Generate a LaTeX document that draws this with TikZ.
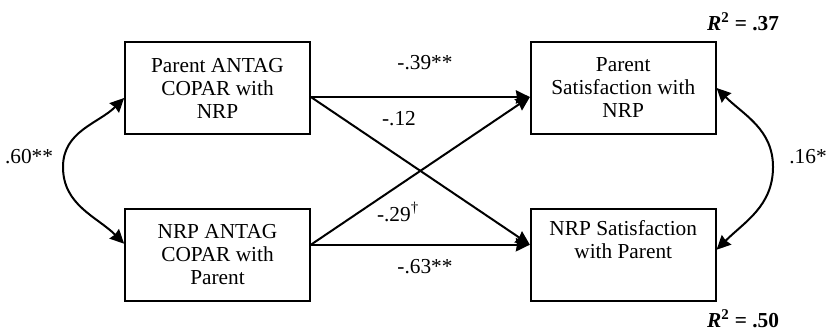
\documentclass[tikz,border=0pt]{standalone}
\usepackage{fontspec}
\setmainfont{Liberation Serif}
\usepackage{tikz}
\usetikzlibrary{arrows.meta, positioning}
\tikzset{
  box/.style={rectangle, draw, line width=1.3pt, minimum height=69pt, minimum width=138.75pt, align=center, inner sep=2pt, font=\fontsize{16}{17.25}\selectfont},
  arrow/.style={-{Stealth[inset=0.8pt, length=10.5pt, width=10pt]}, line width=1.5pt},
  dbl/.style={{Stealth[inset=0.8pt, length=10.5pt, width=10pt]}-{Stealth[inset=0.8pt, length=10.5pt, width=10pt]}, line width=1.5pt},
  lbl/.style={font=\fontsize{16}{18}\selectfont, inner sep=0pt},
}

\begin{document}
\begin{tikzpicture}[x=0.75pt, y=0.75pt]
    \useasboundingbox (0,0) rectangle (827,331);
    % boxes
    \node[box] (pa) at (217.5,243) {Parent ANTAG\\COPAR with\\NRP};
    \node[box, below=54.75pt of pa] (nb) {NRP ANTAG\\COPAR with\\Parent};
    \node[box, right=164.25pt of pa] (ps) {Parent\\Satisfaction with\\NRP};
    \node[box, right=164.25pt of nb] (ns) {NRP Satisfaction\\with Parent\\\strut};
    % attachment points
    \coordinate (paE) at ([yshift=-6.75pt]pa.east);
    \coordinate (nbE) at ([yshift=7.5pt]nb.east);
    \coordinate (psW) at ([yshift=-6.75pt]ps.west);
    \coordinate (nsW) at ([yshift=7.5pt]ns.west);
    \coordinate (paW) at ([yshift=-7.5pt]pa.west);
    \coordinate (nbW) at ([yshift=8.25pt]nb.west);
    \coordinate (psE) at (ps.east);
    \coordinate (nsE) at ([yshift=3.75pt]ns.east);
    \coordinate (lbend) at (63,164);
    \coordinate (rbend) at (773,164);
    % paths
    \draw[arrow] (paE) -- (psW);
    \draw[arrow] (paE) -- (nsW);
    \draw[arrow] (nbE) -- (psW);
    \draw[arrow] (nbE) -- (nsW);
    \draw[dbl] (paW) to[out=225, in=90] (lbend) to[out=270, in=135] (nbW);
    \draw[dbl] (psE) to[out=-45, in=90] (rbend) to[out=270, in=45] (nsE);
    % coefficients
    \node[lbl] (c60) at (29,174) {.60**};
    \node[lbl] (c39) at (425,268) {-.39**};
    \node[lbl] (c12) at (399,212) {-.12};
    \node[lbl] (c29) at (398,119) {-.29\textsuperscript{\dag}};
    \node[lbl] (c63) at (425,64) {-.63**};
    \node[lbl] (c16) at (808,174) {.16*};
    \node[lbl] (r37) at (743,309) {\textbf{\textit{R}\textsuperscript{2} = .37}};
    \node[lbl] (r50) at (743,12) {\textbf{\textit{R}\textsuperscript{2} = .50}};
  \end{tikzpicture}
\end{document}
